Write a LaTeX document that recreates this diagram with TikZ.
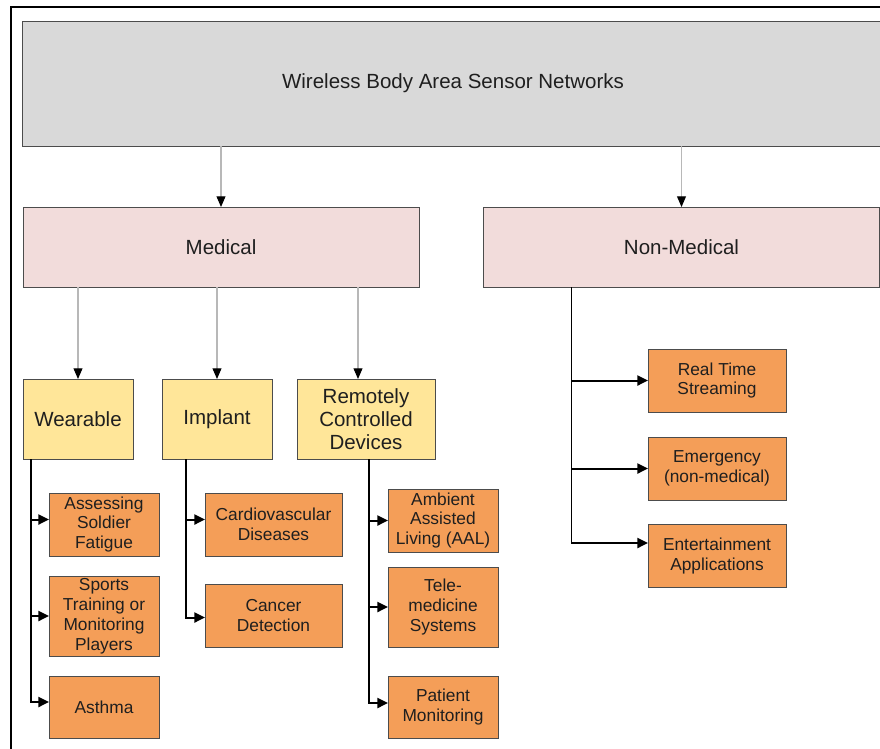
\documentclass[tikz,border=0pt]{standalone}
\usepackage{fontspec}
\setmainfont{Liberation Sans}
\usetikzlibrary{arrows.meta,calc}

\definecolor{topgray}{RGB}{217,217,217}
\definecolor{medpink}{RGB}{242,220,219}
\definecolor{subyellow}{RGB}{255,230,153}
\definecolor{leaforange}{RGB}{244,158,88}

\begin{document}
\begin{tikzpicture}[x=0.03cm,y=-0.03cm,
  box/.style={draw=black!70,line width=0.8pt,inner sep=0pt,outer sep=0pt,align=center,text=black!88},
  big/.style={box,font=\fontsize{17.5}{19.6}\selectfont},
  kind/.style={big,fill=subyellow,minimum width=3.3cm,minimum height=2.4cm},
  leaf/.style={box,fill=leaforange,minimum width=3.3cm,minimum height=1.89cm,font=\fontsize{14.8}{17}\selectfont},
  feed/.style={draw=black!28,line width=0.9pt,-{Triangle[color=black,length=9pt,width=7.5pt]}},
  branch/.style={line width=1.7pt,-{Triangle[length=9pt,width=8.5pt]}}]
\useasboundingbox (0,0) rectangle (880,748);
\clip (0,0) rectangle (880,748);
\draw[line width=1.8pt] (11,7) rectangle (900,770);

\node[big,fill=topgray,minimum width=25.86cm,minimum height=3.75cm] (wbasn) at (453,83.5) {Wireless Body Area Sensor Networks};
\node[big,fill=medpink,minimum width=11.88cm,minimum height=2.4cm] (medical) at (221,247) {Medical};
\node[big,fill=medpink,minimum width=11.88cm,minimum height=2.4cm] (nonmed) at (681.5,247) {Non-Medical};

\node[kind] (wearable) at (78,419) {Wearable};
\node[kind] (implant) at (217,419) {Implant};
\node[kind,minimum width=4.14cm] (remote) at (366,419) {Remotely\\Controlled\\Devices};

\node[leaf] (assess) at (104,524.5) {Assessing\\Soldier\\Fatigue};
\node[leaf,minimum height=2.4cm] (sports) at (104,616) {Sports\\Training or\\Monitoring\\Players};
\node[leaf,minimum height=1.86cm] (asthma) at (104,707) {Asthma};
\node[leaf,minimum width=4.11cm] (cardio) at (273.5,524.5) {Cardiovascular\\Diseases};
\node[leaf,minimum width=4.11cm] (cancer) at (273.5,615.5) {Cancer\\Detection};
\node[leaf] (ambient) at (443,520.5) {Ambient\\Assisted\\Living (AAL)};
\node[leaf,minimum height=2.4cm] (tele) at (443,607) {Tele-\\medicine\\Systems};
\node[leaf,minimum height=1.86cm] (patient) at (443,707) {Patient\\Monitoring};
\node[leaf,minimum width=4.14cm] (realtime) at (717,380.5) {Real Time\\Streaming};
\node[leaf,minimum width=4.14cm] (emerg) at (717,468.5) {Emergency\\(non-medical)};
\node[leaf,minimum width=4.14cm] (entert) at (717,556) {Entertainment\\Applications};

\draw[feed] (medical |- wbasn.south) -- (medical.north);
\draw[feed] (nonmed |- wbasn.south) -- (nonmed.north);
\draw[feed] (wearable |- medical.south) -- (wearable.north);
\draw[feed] (implant |- medical.south) -- (implant.north);
\coordinate (rin) at ($(remote.north)+(-8,0)$);
\draw[feed] (rin |- medical.south) -- (rin);

\coordinate (wtrunk) at ($(wearable.south west)+(8,0)$);
\coordinate (itrunk) at ($(implant.south west)+(24,0)$);
\coordinate (rtrunk) at ($(remote.south)+(3,0)$);
\coordinate (ntrunk) at ($(nonmed.south west)+(88,0)$);

\draw[branch] (wtrunk) |- ($(assess.west)+(0,-5)$);
\draw[branch] (wtrunk) |- (sports.west);
\draw[branch] (wtrunk) |- ($(asthma.west)+(0,-5)$);
\draw[branch] (itrunk) |- ($(cardio.west)+(0,-5)$);
\draw[branch] (itrunk) |- ($(cancer.west)+(0,2)$);
\draw[branch] (rtrunk) |- (ambient.west);
\draw[branch] (rtrunk) |- (tele.west);
\draw[branch] (rtrunk) |- ($(patient.west)+(0,-4)$);
\draw[branch] (ntrunk) |- (realtime.west);
\draw[branch] (ntrunk) |- (emerg.west);
\draw[branch] (ntrunk) |- ($(entert.west)+(0,-13)$);
\end{tikzpicture}
\end{document}
